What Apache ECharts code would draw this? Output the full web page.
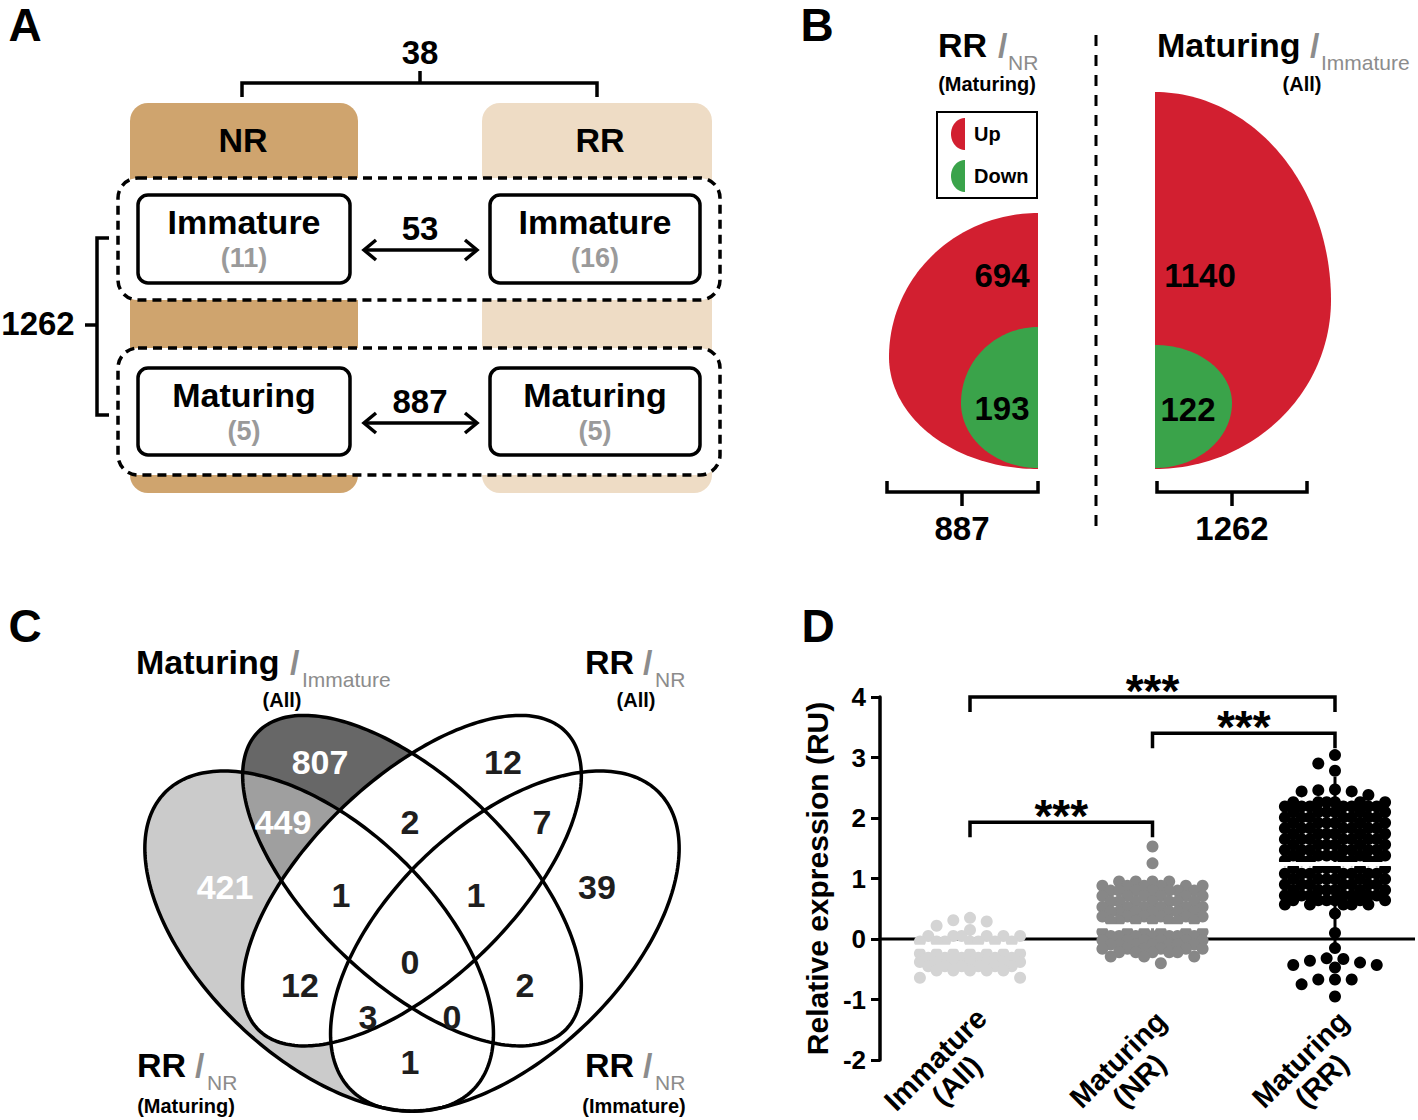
<!DOCTYPE html>
<html><head><meta charset="utf-8">
<script src="https://cdn.jsdelivr.net/npm/echarts@6.0.0/dist/echarts.min.js"></script>
<style>html,body{margin:0;padding:0;background:#fff;}#chart{width:1418px;height:1120px;}</style>
</head><body><div id="chart"></div>
<script>
// ================= DATA =================
// Panel A
const aGroups = ['NR', 'RR'];
const aStages = ['Immature', 'Maturing'];
const aSampleSizes = [[11, 16], [5, 5]];      // [stage][group]
const aStageComparisons = [53, 887];           // RR vs NR within each stage
const aGroupComparison = 38;
const aMaturationComparison = 1262;
// Panel B
const bLegend = ['Up', 'Down'];
const bRRvsNRMaturing = [694, 193];            // up, down
const bMaturingVsImmature = [1140, 122];       // up, down
// Panel C (region counts)
const cSetNames = ['Maturing', 'RR', 'RR', 'RR'];
const cSetSubs = ['Immature', 'NR', 'NR', 'NR'];
const cSetGroups = ['(All)', '(All)', '(Maturing)', '(Immature)'];
const cCounts = [807, 449, 421, 12, 2, 7, 39, 1, 1, 0, 12, 2, 3, 0, 1];
// Panel D
const dCategories = ['Immature\n(All)', 'Maturing\n(NR)', 'Maturing\n(RR)'];
const dImmatureAll = [
  0.35, 0.31, 0.29, 0.22, 0.15,
  0.05, 0.05, 0.05, 0.05, 0.05, 0.05,
  -0.04, -0.04, -0.04, -0.04, -0.04, -0.04, -0.04,
  -0.24, -0.24, -0.24, -0.24, -0.24, -0.24, -0.24,
  -0.31, -0.31, -0.31, -0.31, -0.31, -0.31,
  -0.38, -0.38, -0.38, -0.38, -0.38, -0.38, -0.38,
  -0.45, -0.45, -0.45, -0.45, -0.45, -0.45,
  -0.52, -0.52, -0.52, -0.52, -0.52,
  -0.64, -0.64
];
const dMaturingNR = [
  1.53, 1.25,
  0.95, 0.95, 0.95, 0.95,
  0.88, 0.88, 0.88, 0.88, 0.88, 0.88,
  0.80, 0.80, 0.80, 0.80, 0.80, 0.80, 0.80,
  0.71, 0.71, 0.71, 0.71, 0.71, 0.71,
  0.62, 0.62, 0.62, 0.62, 0.62, 0.62, 0.62,
  0.53, 0.53, 0.53, 0.53, 0.53, 0.53,
  0.45, 0.45, 0.45, 0.45, 0.45, 0.45, 0.45,
  0.37, 0.37, 0.37, 0.37, 0.37, 0.37,
  0.30, 0.30, 0.30, 0.30, 0.30, 0.30, 0.30,
  0.12, 0.12, 0.12, 0.12, 0.12, 0.12,
  0.05, 0.05, 0.05, 0.05, 0.05, 0.05, 0.05,
  -0.02, -0.02, -0.02, -0.02, -0.02, -0.02,
  -0.09, -0.09, -0.09, -0.09, -0.09, -0.09, -0.09,
  -0.16, -0.16, -0.16, -0.16, -0.16, -0.16,
  -0.22, -0.22, -0.22, -0.22, -0.22,
  -0.29, -0.29, -0.29,
  -0.40
];
const dMaturingRR = [
  3.04, 2.90, 2.78, 2.47, 2.46, 2.44, 2.44, 2.38,
  2.26, 2.26, 2.26, 2.26, 2.26, 2.26,
  2.19, 2.19, 2.19, 2.19, 2.19, 2.19, 2.19,
  2.10, 2.10, 2.10, 2.10, 2.10, 2.10,
  2.01, 2.01, 2.01, 2.01, 2.01, 2.01, 2.01,
  1.92, 1.92, 1.92, 1.92, 1.92, 1.92,
  1.83, 1.83, 1.83, 1.83, 1.83, 1.83, 1.83,
  1.74, 1.74, 1.74, 1.74, 1.74, 1.74,
  1.65, 1.65, 1.65, 1.65, 1.65, 1.65, 1.65,
  1.56, 1.56, 1.56, 1.56, 1.56, 1.56,
  1.47, 1.47, 1.47, 1.47, 1.47, 1.47, 1.47,
  1.38, 1.38, 1.38, 1.38, 1.38, 1.38,
  1.30, 1.30, 1.30, 1.30, 1.30, 1.30, 1.30,
  1.17, 1.17, 1.17, 1.17, 1.17, 1.17,
  1.08, 1.08, 1.08, 1.08, 1.08, 1.08, 1.08,
  0.99, 0.99, 0.99, 0.99, 0.99, 0.99,
  0.90, 0.90, 0.90, 0.90, 0.90, 0.90, 0.90,
  0.81, 0.81, 0.81, 0.81, 0.81, 0.81,
  0.72, 0.72, 0.72, 0.72, 0.72, 0.72, 0.72,
  0.64, 0.64, 0.64, 0.64, 0.64, 0.64,
  0.57, 0.57, 0.57, 0.57, 0.57,
  0.42, 0.10, -0.15, -0.32, -0.33, -0.36, -0.39, -0.43, -0.43, -0.47,
  -0.67, -0.67, -0.67, -0.75, -0.95
];
const dMeans = [-0.13, 0.21, 1.24];
const dSDs = [0.25, 0.33, 1.44];
const dYTicks = [-2, -1, 0, 1, 2, 3, 4];
const dSignificance = [['***', 0, 2], ['***', 1, 2], ['***', 0, 1]];

// ================= LAYOUT / STYLE =================
const FF = '"Liberation Sans", Arial, Helvetica, sans-serif';
const F = (s, w) => (w || 'bold') + ' ' + s + 'px ' + FF;
const GREY_TXT = '#8c8c8c';
const RED = '#d21f30', GREEN = '#3aa34a';
const dColors = ['#d4d4d4', '#878787', '#000000'];
const X_MIN = -0.4932, X_MAX = 2.4384;
const GRID = {left: 880, top: 697, width: 535, height: 363};
const PX_PER_X = GRID.width / (X_MAX - X_MIN);
const PX_PER_Y = GRID.height / 6;
const dBracketLevels = [4.0, 3.4, 1.93];

// beeswarm layout (horizontal offsets only)
function swarm(values, cat) {
  const P = 16.7, D = 12, half = P / 2;
  const cands = [];
  for (let k = -6; k <= 6; k++) cands.push(k * half);
  cands.sort((a, b) => Math.abs(a) - Math.abs(b) || a - b);
  const placed = [], out = [];
  values.forEach(v => {
    const py = v * PX_PER_Y;
    let chosen = null, bestMd = -1;
    for (const c of cands) {
      let md = Infinity;
      for (const p of placed) {
        const d = Math.hypot(p[0] - c, p[1] - py);
        if (d < md) md = d;
      }
      if (md >= D - 0.01) { chosen = c; break; }
      const r = Math.round(md * 100) / 100;
      if (r > bestMd) { bestMd = r; chosen = c; }
    }
    placed.push([chosen, py]);
    out.push([cat + chosen / PX_PER_X, v]);
  });
  return out;
}

const chart = echarts.init(document.getElementById('chart'), null, {renderer: 'svg'});
const groups = [dImmatureAll, dMaturingNR, dMaturingRR];

const series = [];
series.push({
  type: 'line', silent: true, z: 1, symbol: 'none', animation: false,
  data: [[X_MIN, 0], [X_MAX, 0]],
  lineStyle: {color: '#000', width: 3}
});
series.push({
  type: 'custom', silent: true, z: 1, encode: {x: 0, y: 1},
  data: dMeans.map((m, i) => [i, m, dSDs[i]]),
  renderItem: (params, api) => {
    const i = api.value(0), m = api.value(1), s = api.value(2);
    const a = api.coord([i, m - s]), b = api.coord([i, m + s]);
    return {type: 'line', shape: {x1: a[0], y1: a[1], x2: b[0], y2: b[1]},
      style: {stroke: dColors[i], lineWidth: 3}};
  }
});
groups.forEach((vals, i) => {
  series.push({
    type: 'scatter', silent: true, z: 2, symbol: 'circle', symbolSize: 12,
    data: swarm(vals, i),
    itemStyle: {color: dColors[i], opacity: 1}
  });
});
series.push({
  type: 'custom', silent: true, z: 3, encode: {x: 0, y: 1},
  data: dMeans.map((m, i) => [i, m]),
  renderItem: (params, api) => {
    const c = api.coord([api.value(0), api.value(1)]);
    return {type: 'line', shape: {x1: c[0] - 57, y1: c[1], x2: c[0] + 57, y2: c[1]},
      style: {stroke: '#ffffff', lineWidth: 4}};
  }
});
series.push({
  type: 'custom', silent: true, z: 4, encode: {x: 0, y: 2},
  data: dSignificance.map((s, k) => [s[1], s[2], dBracketLevels[k]]),
  renderItem: (params, api) => {
    const i = api.value(0), j = api.value(1), lv = api.value(2);
    const p1 = api.coord([i, lv]), p2 = api.coord([j, lv]);
    const drop = 15;
    return {type: 'group', children: [
      {type: 'polyline', shape: {points: [[p1[0], p1[1] + drop], [p1[0], p1[1]], [p2[0], p2[1]], [p2[0], p2[1] + drop]]},
        style: {stroke: '#000', lineWidth: 3.5, fill: 'none'}},
      {type: 'text', x: (p1[0] + p2[0]) / 2, y: p1[1] - 6,
        style: {text: dSignificance[params.dataIndex][0], font: F(46), fill: '#000',
          align: 'center', verticalAlign: 'middle', textAlign: 'center', textVerticalAlign: 'middle'}}
    ]};
  }
});

chart.setOption({
  animation: false,
  backgroundColor: '#fff',
  grid: [{left: GRID.left, top: GRID.top, width: GRID.width, height: GRID.height, containLabel: false}],
  xAxis: [{type: 'value', min: X_MIN, max: X_MAX, show: false}],
  yAxis: [{
    type: 'value', min: dYTicks[0], max: dYTicks[dYTicks.length - 1], interval: 1,
    axisLine: {show: true, onZero: false, lineStyle: {color: '#000', width: 3.5}},
    axisTick: {show: true, length: 9, lineStyle: {color: '#000', width: 3}},
    axisLabel: {color: '#000', fontSize: 26, fontWeight: 'bold', fontFamily: FF, margin: 14},
    splitLine: {show: false},
    name: 'Relative expression (RU)', nameLocation: 'middle', nameGap: 48,
    nameTextStyle: {color: '#000', fontSize: 30, fontWeight: 'bold', fontFamily: FF}
  }],
  series: series
});

// ================= GRAPHIC (panels A, B, C, labels) =================
const els = [];
let zc = 10;
function add(el) { el.z = zc++; els.push(el); return el; }
function txt(x, y, str, size, o) {
  o = o || {};
  add({type: 'text', x: x, y: y, rotation: o.rot || 0, silent: true,
    style: {text: str, font: F(size, o.w), fill: o.color || '#000',
      align: o.align || 'center', verticalAlign: 'middle',
      textAlign: o.align || 'center', textVerticalAlign: 'middle',
      lineHeight: o.lh}});
}
function line(x1, y1, x2, y2, w, dash) {
  add({type: 'line', silent: true, shape: {x1, y1, x2, y2},
    style: {stroke: '#000', lineWidth: w || 3.5, lineDash: dash || null, lineCap: 'butt'}});
}
function pline(points, w) {
  add({type: 'polyline', silent: true, shape: {points}, style: {stroke: '#000', lineWidth: w || 3.5, fill: 'none', lineJoin: 'miter'}});
}
function rect(x, y, w, h, r, style) {
  add({type: 'rect', silent: true, shape: {x, y, width: w, height: h, r}, style});
}
function poly(points, style) {
  add({type: 'polygon', silent: true, shape: {points}, style});
}

// Panel letters
txt(25, 25, 'A', 46); txt(817, 25, 'B', 46); txt(25, 626, 'C', 46); txt(818, 626, 'D', 46);

// ---- Panel A ----
const colFill = ['#cfa46e', '#eedcc5'];
const colX = [130, 482];
colX.forEach((x, g) => rect(x, 103, 228 + g * 2, 390, 18, {fill: colFill[g]}));
const colCx = [244, 597];
aGroups.forEach((g, i) => txt(colCx[i] - (i ? -3 : 1), 140, g, 34));
// top bracket
pline([[242, 97], [242, 83], [597, 83], [597, 97]]);
line(420, 83, 420, 71);
txt(420, 52, String(aGroupComparison), 33);
// dashed stage containers
const stageY = [[178, 122], [348, 127]];
stageY.forEach(s => rect(118, s[0], 602, s[1], 20, {fill: '#fff', stroke: '#000', lineWidth: 3.5, lineDash: [9, 6]}));
// stage boxes
const boxY = [[195, 88], [368, 87]];
const boxX = [[138, 212], [490, 210]];
aStages.forEach((st, si) => {
  boxX.forEach((bx, gi) => {
    rect(bx[0], boxY[si][0], bx[1], boxY[si][1], 10, {fill: '#fff', stroke: '#000', lineWidth: 3.5});
    const cx = bx[0] + bx[1] / 2;
    txt(cx, boxY[si][0] + 27, st, 34);
    txt(cx, boxY[si][0] + 63, '(' + aSampleSizes[si][gi] + ')', 27, {color: '#9a9a9a'});
  });
  const ay = boxY[si][0] + 55;
  line(364, ay, 477, ay);
  pline([[376, ay - 10], [364, ay], [376, ay + 10]]);
  pline([[465, ay - 10], [477, ay], [465, ay + 10]]);
  txt(420, ay - 22, String(aStageComparisons[si]), 33);
});
// left bracket
pline([[109, 238], [97, 238], [97, 415], [109, 415]]);
line(97, 325, 85, 325);
txt(38, 323, String(aMaturationComparison), 33);

// ---- Panel B ----
function halfEgg(cx, cy, rx, ryT, ryB, dir) {
  const pts = [], n = 60;
  for (let k = 0; k <= n; k++) { const t = (Math.PI / 2) * k / n; pts.push([cx + dir * rx * Math.sin(t), cy - ryT * Math.cos(t)]); }
  for (let k = 1; k <= n; k++) { const t = Math.PI / 2 + (Math.PI / 2) * k / n; pts.push([cx + dir * rx * Math.sin(t), cy - ryB * Math.cos(t)]); }
  return pts;
}
// titles
txt(938, 45, 'RR', 34, {align: 'left'});
txt(998, 45, '/', 34, {align: 'left', color: GREY_TXT});
txt(1008, 62, 'NR', 21, {align: 'left', color: GREY_TXT, w: 'normal'});
txt(987, 84, '(Maturing)', 20);
txt(1157, 45, 'Maturing', 34, {align: 'left'});
txt(1310, 45, '/', 34, {align: 'left', color: GREY_TXT});
txt(1321, 62, 'Immature', 21, {align: 'left', color: GREY_TXT, w: 'normal'});
txt(1302, 84, '(All)', 20);
// divider
line(1096, 35, 1096, 535, 3, [11, 9]);
// legend
rect(937, 112, 100, 86, 0, {fill: '#fff', stroke: '#000', lineWidth: 2});
poly(halfEgg(965, 134, 14, 16, 16, -1), {fill: RED});
poly(halfEgg(965, 176, 14, 16, 16, -1), {fill: GREEN});
txt(974, 134, bLegend[0], 20, {align: 'left'});
txt(974, 176, bLegend[1], 20, {align: 'left'});
// shapes
poly(halfEgg(1038, 357, 149, 144, 112, -1), {fill: RED});
poly(halfEgg(1038, 403, 77, 76, 65, -1), {fill: GREEN});
poly(halfEgg(1155, 300, 176, 208, 169, 1), {fill: RED});
poly(halfEgg(1155, 403, 77, 58, 65, 1), {fill: GREEN});
txt(1002, 275, String(bRRvsNRMaturing[0]), 33);
txt(1002, 408, String(bRRvsNRMaturing[1]), 33);
txt(1200, 275, String(bMaturingVsImmature[0]), 33);
txt(1188, 409, String(bMaturingVsImmature[1]), 33);
// brackets
pline([[887, 481], [887, 492], [1038, 492], [1038, 481]]);
line(962, 492, 962, 506);
txt(962, 528, String(bRRvsNRMaturing[0] + bRRvsNRMaturing[1]), 33);
pline([[1157, 481], [1157, 492], [1307, 492], [1307, 481]]);
line(1232, 492, 1232, 506);
txt(1232, 528, String(bMaturingVsImmature[0] + bMaturingVsImmature[1]), 33);

// ---- Panel C ----
const VENN = {cx: 412, top: 718, sx: 619, sy: 604, vTop: 0.8393};
const vennShapes = [
  {u: 0.35, v: 0.47, a: 0.35, b: 0.19, rot: 135},
  {u: 0.50, v: 0.57, a: 0.35, b: 0.165, rot: 135},
  {u: 0.50, v: 0.57, a: 0.35, b: 0.165, rot: 45},
  {u: 0.65, v: 0.47, a: 0.35, b: 0.19, rot: 45}
];
function ellipsePts(e) {
  const pts = [], n = 240, th = e.rot * Math.PI / 180;
  for (let k = 0; k < n; k++) {
    const t = 2 * Math.PI * k / n;
    const u = e.u + e.a * Math.cos(t) * Math.cos(th) - e.b * Math.sin(t) * Math.sin(th);
    const v = e.v + e.a * Math.cos(t) * Math.sin(th) + e.b * Math.sin(t) * Math.cos(th);
    pts.push([VENN.cx + (u - 0.5) * VENN.sx, VENN.top + (VENN.vTop - v) * VENN.sy]);
  }
  return pts;
}
function signedArea(p) { let s = 0; for (let i = 0; i < p.length; i++) { const a = p[i], b = p[(i + 1) % p.length]; s += a[0] * b[1] - b[0] * a[1]; } return s; }
function clipPoly(subject, clip) {
  let output = subject.slice();
  const sg = signedArea(clip) > 0 ? 1 : -1;
  for (let i = 0; i < clip.length; i++) {
    const A = clip[i], B = clip[(i + 1) % clip.length];
    const input = output; output = [];
    const side = p => sg * ((B[0] - A[0]) * (p[1] - A[1]) - (B[1] - A[1]) * (p[0] - A[0]));
    for (let j = 0; j < input.length; j++) {
      const P = input[j], Q = input[(j + 1) % input.length];
      const sp = side(P), sq = side(Q);
      if (sp >= 0) output.push(P);
      if ((sp >= 0) !== (sq >= 0)) { const t = sp / (sp - sq); output.push([P[0] + t * (Q[0] - P[0]), P[1] + t * (Q[1] - P[1])]); }
    }
    if (!output.length) break;
  }
  return output;
}
const ell = vennShapes.map(ellipsePts);
poly(ell[0], {fill: '#cbcbcb'});
poly(ell[1], {fill: '#676767'});
poly(clipPoly(ell[0], ell[1]), {fill: '#9f9f9f'});
poly(ell[2], {fill: '#ffffff'});
poly(ell[3], {fill: '#ffffff'});
ell.forEach(p => poly(p, {fill: 'none', stroke: '#000', lineWidth: 3.5}));
const cLabelPos = [[320, 762], [283, 822], [225, 887], [503, 762], [410, 822], [542, 822], [597, 887],
  [341, 895], [476, 895], [410, 962], [300, 985], [525, 985], [368, 1017], [452, 1017], [410, 1062]];
cCounts.forEach((c, k) => txt(cLabelPos[k][0], cLabelPos[k][1], String(c), 34, {color: k < 3 ? '#ffffff' : '#1e1e1e'}));
// set titles
const cTitlePos = [[136, 662, 290, 302, 282, 700], [585, 662, 643, 655, 636, 700],
  [137, 1065, 195, 207, 186, 1106], [585, 1065, 643, 655, 634, 1106]];
cTitlePos.forEach((p, k) => {
  txt(p[0], p[1], cSetNames[k], 34, {align: 'left'});
  txt(p[2], p[1], '/', 34, {align: 'left', color: GREY_TXT});
  txt(p[3], p[1] + 17, cSetSubs[k], 21, {align: 'left', color: GREY_TXT, w: 'normal'});
  txt(p[4], p[5], cSetGroups[k], 20);
});

// ---- Panel D category labels ----
dCategories.forEach((c, i) => {
  const px = chart.convertToPixel({gridIndex: 0}, [i, dYTicks[0]]);
  txt(px[0] - 24, px[1] + 10, c, 29, {rot: Math.PI / 4, lh: 30});
});

chart.setOption({graphic: {elements: els}});
</script>
</body></html>
